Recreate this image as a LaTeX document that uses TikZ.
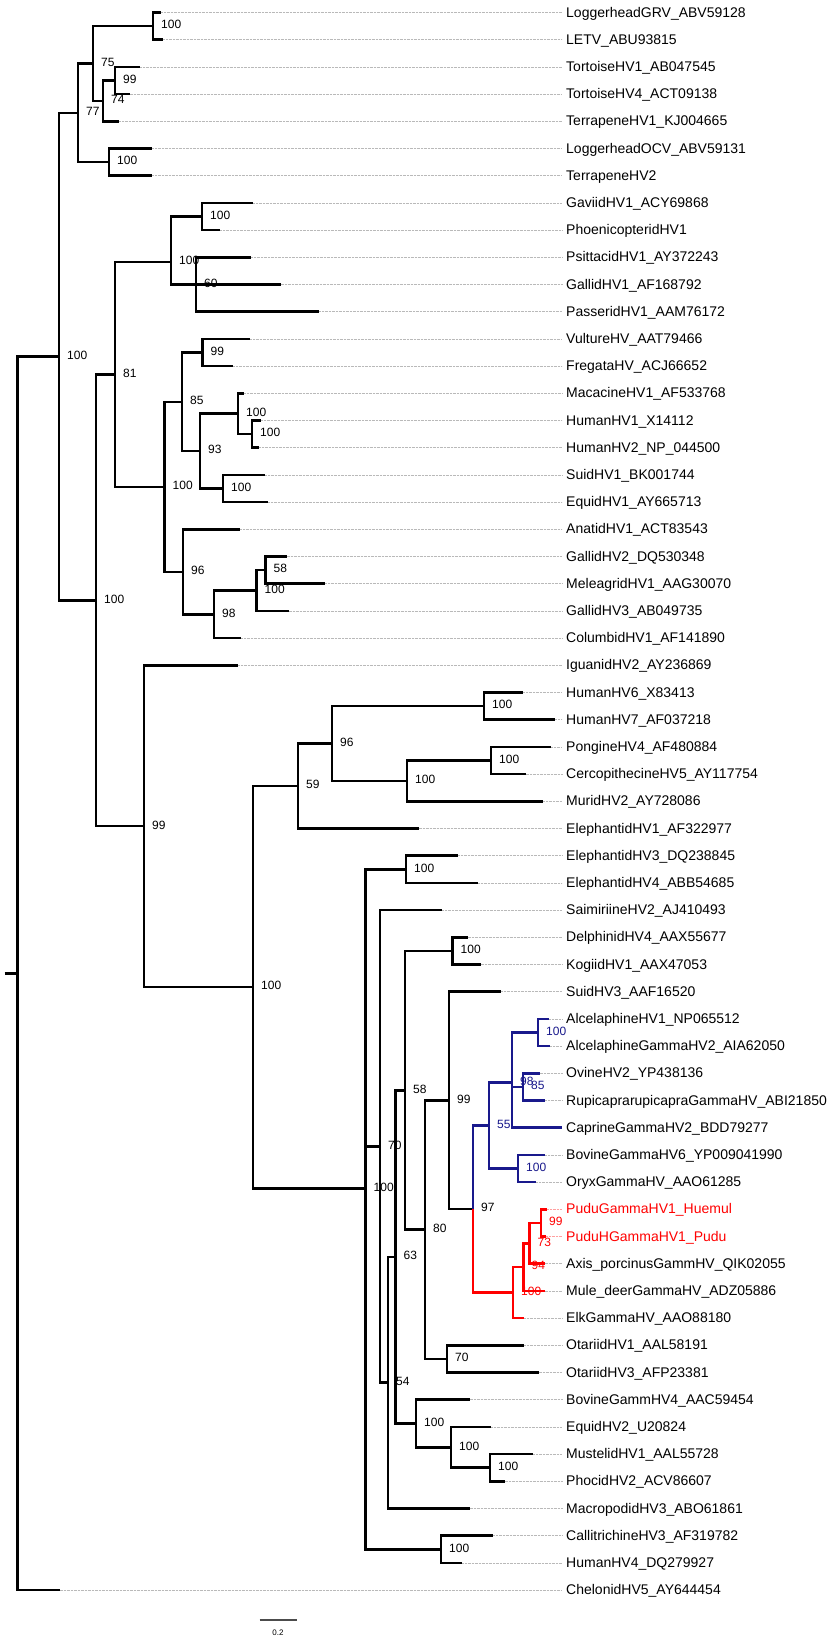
\documentclass[tikz,border=0pt]{standalone}
\usepackage{fontspec}
\setmainfont{Liberation Sans}
\usetikzlibrary{calc}
\definecolor{tblue}{RGB}{25,25,140}
\definecolor{tred}{RGB}{255,0,0}
\definecolor{dotgray}{RGB}{185,185,185}
\definecolor{dotred}{RGB}{255,160,160}
\tikzset{
 branch/.style={line width=2.5pt, black},
 dotline/.style={line width=0.6pt, dotgray, dash pattern=on 0.5pt off 0.9pt},
 leaflab/.style={anchor=west, inner xsep=4pt, inner ysep=0pt, text height=11pt, text depth=2pt, font=\fontsize{14}{15}\selectfont},
 bs/.style={anchor=west, inner sep=0pt, text height=8.6pt, text depth=0pt, xshift=8pt, yshift=1.5pt, font=\fontsize{12}{13}\selectfont},
}
\newcommand\mknode[5]{\coordinate (#1) at (#2,#3);\node[bs,text=#5] (l#1) at (#1) {#4};}
\newcommand\mkleaf[4]{\coordinate (t#1) at (#2,#1);\node[leaflab,text=#4] (n#1) at (562,#1) {#3};}
\newcommand\tbr[3][black]{\draw[branch,#1] (#2) |- (#3);}
\newcommand\tdl[2][dotline]{\draw[#1] (t#2) -- (n#2.west);}
\begin{document}
\begin{tikzpicture}[x=1pt,y=-27.2pt]
\fill[white] (0,0.54044) rectangle (830,60.7243);
\useasboundingbox (0,0.54044) rectangle (830,60.7243);
% leaves
\mkleaf{1}{161}{LoggerheadGRV\_ABV59128}{black}
\mkleaf{2}{163}{LETV\_ABU93815}{black}
\mkleaf{3}{140}{TortoiseHV1\_AB047545}{black}
\mkleaf{4}{129.5}{TortoiseHV4\_ACT09138}{black}
\mkleaf{5}{119}{TerrapeneHV1\_KJ004665}{black}
\mkleaf{6}{152}{LoggerheadOCV\_ABV59131}{black}
\mkleaf{7}{152}{TerrapeneHV2}{black}
\mkleaf{8}{253}{GaviidHV1\_ACY69868}{black}
\mkleaf{9}{220}{PhoenicopteridHV1}{black}
\mkleaf{10}{251}{PsittacidHV1\_AY372243}{black}
\mkleaf{11}{280.5}{GallidHV1\_AF168792}{black}
\mkleaf{12}{319}{PasseridHV1\_AAM76172}{black}
\mkleaf{13}{250}{VultureHV\_AAT79466}{black}
\mkleaf{14}{233}{FregataHV\_ACJ66652}{black}
\mkleaf{15}{244}{MacacineHV1\_AF533768}{black}
\mkleaf{16}{261}{HumanHV1\_X14112}{black}
\mkleaf{17}{259}{HumanHV2\_NP\_044500}{black}
\mkleaf{18}{265}{SuidHV1\_BK001744}{black}
\mkleaf{19}{268}{EquidHV1\_AY665713}{black}
\mkleaf{20}{240}{AnatidHV1\_ACT83543}{black}
\mkleaf{21}{286.5}{GallidHV2\_DQ530348}{black}
\mkleaf{22}{325}{MeleagridHV1\_AAG30070}{black}
\mkleaf{23}{288.5}{GallidHV3\_AB049735}{black}
\mkleaf{24}{241}{ColumbidHV1\_AF141890}{black}
\mkleaf{25}{238}{IguanidHV2\_AY236869}{black}
\mkleaf{26}{523}{HumanHV6\_X83413}{black}
\mkleaf{27}{555}{HumanHV7\_AF037218}{black}
\mkleaf{28}{551}{PongineHV4\_AF480884}{black}
\mkleaf{29}{525.5}{CercopithecineHV5\_AY117754}{black}
\mkleaf{30}{543}{MuridHV2\_AY728086}{black}
\mkleaf{31}{418.5}{ElephantidHV1\_AF322977}{black}
\mkleaf{32}{458}{ElephantidHV3\_DQ238845}{black}
\mkleaf{33}{478}{ElephantidHV4\_ABB54685}{black}
\mkleaf{34}{442}{SaimiriineHV2\_AJ410493}{black}
\mkleaf{35}{467.5}{DelphinidHV4\_AAX55677}{black}
\mkleaf{36}{480.5}{KogiidHV1\_AAX47053}{black}
\mkleaf{37}{501}{SuidHV3\_AAF16520}{black}
\mkleaf{38}{549}{AlcelaphineHV1\_NP065512}{black}
\mkleaf{39}{550}{AlcelaphineGammaHV2\_AIA62050}{black}
\mkleaf{40}{539.5}{OvineHV2\_YP438136}{black}
\mkleaf{41}{545}{RupicaprarupicapraGammaHV\_ABI21850}{black}
\mkleaf{42}{562}{CaprineGammaHV2\_BDD79277}{black}
\mkleaf{43}{545}{BovineGammaHV6\_YP009041990}{black}
\mkleaf{44}{536}{OryxGammaHV\_AAO61285}{black}
\mkleaf{45}{547}{PuduGammaHV1\_Huemul}{tred}
\mkleaf{46}{546}{PuduHGammaHV1\_Pudu}{tred}
\mkleaf{47}{544.5}{Axis\_porcinusGammHV\_QIK02055}{black}
\mkleaf{48}{544.5}{Mule\_deerGammaHV\_ADZ05886}{black}
\mkleaf{49}{524}{ElkGammaHV\_AAO88180}{black}
\mkleaf{50}{524}{OtariidHV1\_AAL58191}{black}
\mkleaf{51}{538.5}{OtariidHV3\_AFP23381}{black}
\mkleaf{52}{469.5}{BovineGammHV4\_AAC59454}{black}
\mkleaf{53}{491}{EquidHV2\_U20824}{black}
\mkleaf{54}{533}{MustelidHV1\_AAL55728}{black}
\mkleaf{55}{504.5}{PhocidHV2\_ACV86607}{black}
\mkleaf{56}{469.5}{MacropodidHV3\_ABO61861}{black}
\mkleaf{57}{493}{CallitrichineHV3\_AF319782}{black}
\mkleaf{58}{462}{HumanHV4\_DQ279927}{black}
\mkleaf{59}{59.5}{ChelonidHV5\_AY644454}{black}
% dotted guides
\foreach \i in {1,...,41,43,44,47,48,...,59} {\tdl{\i}}
\tdl[dotline,dotred]{45}
\tdl[dotline,dotred]{46}
% internal nodes
\coordinate (ROOT) at (17.5,36.3242);
\coordinate (STUB) at (4.5,36.3242);
\mknode{MAIN}{59}{13.6484}{100}{black}
\mknode{T1}{153}{1.5}{100}{black}
\mknode{T2}{115}{3.5}{99}{black}
\mknode{T3}{103}{4.25}{74}{black}
\mknode{T4}{93}{2.875}{75}{black}
\mknode{T5}{109}{6.5}{100}{black}
\mknode{T6}{78}{4.6875}{77}{black}
\mknode{B}{96}{22.6094}{100}{black}
\mknode{A81}{115}{14.302}{81}{black}
\mknode{A100a}{171}{10.1667}{100}{black}
\mknode{G1}{202}{8.5}{100}{black}
\mknode{G2}{196}{11}{60}{black}
\mknode{A100b}{164.5}{18.4375}{100}{black}
\mknode{A85}{182}{15.3125}{85}{black}
\mknode{V1}{202.5}{13.5}{99}{black}
\mknode{A93}{200}{17.125}{93}{black}
\mknode{A100c}{238}{15.75}{100}{black}
\mknode{A100e}{252}{16.5}{100}{black}
\mknode{A100d}{223}{18.5}{100}{black}
\mknode{A96}{183}{21.5625}{96}{black}
\mknode{A98}{214}{23.125}{98}{black}
\mknode{A100f}{256.5}{22.25}{100}{black}
\mknode{A58}{265.5}{21.5}{58}{black}
\mknode{D99}{144}{30.9167}{99}{black}
\mknode{D100big}{253}{36.8333}{100}{black}
\mknode{D59}{298}{29.4375}{59}{black}
\mknode{D96}{332}{27.875}{96}{black}
\mknode{D100g}{484}{26.5}{100}{black}
\mknode{D100h}{407}{29.25}{100}{black}
\mknode{D100i}{491}{28.5}{100}{black}
\mknode{D100x}{365.5}{44.2291}{100}{black}
\mknode{D100j}{406}{32.5}{100}{black}
\mknode{N70}{380}{42.6873}{70}{black}
\mknode{N54}{388}{51.3747}{54}{black}
\mknode{N63}{395.5}{46.7493}{63}{black}
\mknode{N58}{405}{40.6237}{58}{black}
\mknode{D100k}{452.5}{35.5}{100}{black}
\mknode{N80}{425}{45.7474}{80}{black}
\mknode{N99b}{449}{40.9948}{99}{black}
\mknode{N97}{473}{44.9896}{97}{black}
\mknode{B55}{489}{41.9167}{55}{tblue}
\mknode{B98}{512}{40.3333}{98}{tblue}
\mknode{BA}{538}{38.5}{100}{tblue}
\mknode{B85}{523}{40.5}{85}{tblue}
\mknode{B100bo}{518}{43.5}{100}{tblue}
\mknode{R100}{513}{48.0625}{100}{tred}
\mknode{R94}{523.5}{47.125}{94}{tred}
\mknode{R73}{529.5}{46.25}{73}{tred}
\mknode{R99}{541}{45.5}{99}{tred}
\mknode{N70b}{447}{50.5}{70}{black}
\mknode{N100p}{416}{52.875}{100}{black}
\mknode{N100q}{451}{53.75}{100}{black}
\mknode{N100r}{490}{54.5}{100}{black}
\mknode{N100ch}{441}{57.5}{100}{black}
% branches
\draw[branch] (STUB) -- (ROOT);
\tbr{ROOT}{MAIN}\tbr{ROOT}{t59}
\tbr{MAIN}{T6}\tbr{MAIN}{B}
\tbr{T6}{T4}\tbr{T6}{T5}
\tbr{T4}{T1}\tbr{T4}{T3}
\tbr{T1}{t1}\tbr{T1}{t2}
\tbr{T3}{T2}\tbr{T3}{t5}
\tbr{T2}{t3}\tbr{T2}{t4}
\tbr{T5}{t6}\tbr{T5}{t7}
\tbr{B}{A81}\tbr{B}{D99}
\tbr{A81}{A100a}\tbr{A81}{A100b}
\tbr{A100a}{G1}\tbr{A100a}{t11}\tbr{A100a}{G2}
\tbr{G1}{t8}\tbr{G1}{t9}
\tbr{G2}{t10}\tbr{G2}{t12}
\tbr{A100b}{A85}\tbr{A100b}{A96}
\tbr{A85}{V1}\tbr{A85}{A93}
\tbr{V1}{t13}\tbr{V1}{t14}
\tbr{A93}{A100c}\tbr{A93}{A100d}
\tbr{A100c}{t15}\tbr{A100c}{A100e}
\tbr{A100e}{t16}\tbr{A100e}{t17}
\tbr{A100d}{t18}\tbr{A100d}{t19}
\tbr{A96}{t20}\tbr{A96}{A98}
\tbr{A98}{A100f}\tbr{A98}{t24}
\tbr{A100f}{A58}\tbr{A100f}{t23}
\tbr{A58}{t21}\tbr{A58}{t22}
\tbr{D99}{t25}\tbr{D99}{D100big}
\tbr{D100big}{D59}\tbr{D100big}{D100x}
\tbr{D59}{D96}\tbr{D59}{t31}
\tbr{D96}{D100g}\tbr{D96}{D100h}
\tbr{D100g}{t26}\tbr{D100g}{t27}
\tbr{D100h}{D100i}\tbr{D100h}{t30}
\tbr{D100i}{t28}\tbr{D100i}{t29}
\tbr{D100x}{D100j}\tbr{D100x}{N70}\tbr{D100x}{N100ch}
\tbr{D100j}{t32}\tbr{D100j}{t33}
\tbr{N70}{t34}\tbr{N70}{N54}
\tbr{N54}{N63}\tbr{N54}{t56}
\tbr{N63}{N58}\tbr{N63}{N100p}
\tbr{N58}{D100k}\tbr{N58}{N80}
\tbr{D100k}{t35}\tbr{D100k}{t36}
\tbr{N80}{N99b}\tbr{N80}{N70b}
\tbr{N99b}{t37}\tbr{N99b}{N97}
\tbr[tblue]{N97}{B55}\tbr[tred]{N97}{R100}
\tbr[tblue]{B55}{B98}\tbr[tblue]{B55}{B100bo}
\tbr[tblue]{B98}{BA}\tbr[tblue]{B98}{B85}\tbr[tblue]{B98}{t42}
\tbr[tblue]{BA}{t38}\tbr[tblue]{BA}{t39}
\tbr[tblue]{B85}{t40}\tbr[tblue]{B85}{t41}
\tbr[tblue]{B100bo}{t43}\tbr[tblue]{B100bo}{t44}
\tbr[tred]{R100}{R94}\tbr[tred]{R100}{t49}
\tbr[tred]{R94}{R73}\tbr[tred]{R94}{t48}
\tbr[tred]{R73}{R99}\tbr[tred]{R73}{t47}
\tbr[tred]{R99}{t45}\tbr[tred]{R99}{t46}
\tbr{N70b}{t50}\tbr{N70b}{t51}
\tbr{N100p}{t52}\tbr{N100p}{N100q}
\tbr{N100q}{t53}\tbr{N100q}{N100r}
\tbr{N100r}{t54}\tbr{N100r}{t55}
\tbr{N100ch}{t57}\tbr{N100ch}{t58}
% scale bar
\coordinate (SB1) at (259.5,60.1);
\coordinate (SB2) at (297,60.1);
\draw[line width=1.3pt, black!70] (SB1) -- (SB2);
\node[font=\fontsize{8}{9}\selectfont, inner sep=0pt] (SBL) at (278,60.55) {0.2};
\end{tikzpicture}
\end{document}
